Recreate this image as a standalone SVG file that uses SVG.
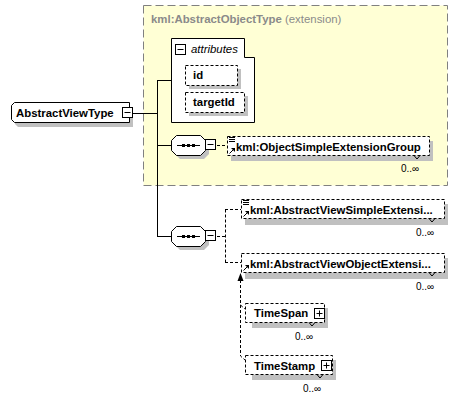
<svg xmlns="http://www.w3.org/2000/svg" width="473" height="400" viewBox="0 0 473 400">
<defs>
<style>
.t{font-family:"Liberation Sans",Arial,sans-serif;font-size:11.4px;font-weight:bold;fill:#000}
.m{font-family:"Liberation Sans",Arial,sans-serif;font-size:10px;fill:#000}
.sh{fill:#c0c0c0}
.box{fill:#fff;stroke:#000;stroke-width:1}
.dbox{fill:#fff;stroke:#000;stroke-width:1;stroke-dasharray:3,2}
.ln{stroke:#000;stroke-width:1;fill:none}
.dl{stroke:#000;stroke-width:1;fill:none;stroke-dasharray:3,2}
.btn{fill:#fff;stroke:#000;stroke-width:1}
</style>
<g id="minus"><rect x="1" y="1" width="10" height="10" fill="#000"/><rect x="0.5" y="0.5" width="10" height="10" class="btn"/><line x1="2.5" y1="5.5" x2="8.5" y2="5.5" stroke="#000"/></g>
<g id="plus"><rect x="1" y="1" width="10" height="10" fill="#000"/><rect x="0.5" y="0.5" width="10" height="10" class="btn"/><line x1="2.5" y1="5.5" x2="8.5" y2="5.5" stroke="#000"/><line x1="5.5" y1="2.5" x2="5.5" y2="8.5" stroke="#000"/></g>
<g id="refarrow"><path d="M0.5,5.5 L5,1" stroke="#000" fill="none"/><path d="M2,0 L6,0 L6,4 Z" fill="#000"/></g>
<g id="lines"><path d="M0,0.5 H6 M0,2.5 H6 M0,4.5 H6" stroke="#000"/></g>
</defs>

<g id="extension">
<rect x="143.5" y="5.5" width="304" height="180" fill="#ffffd5" stroke="#808080" stroke-dasharray="8,4"/>
<text x="151" y="23" font-family="Liberation Sans,Arial,sans-serif" font-size="11.4" fill="#8a8a8a"><tspan font-weight="bold">kml:AbstractObjectType</tspan> (extension)</text>
</g>

<g id="connectors">
<path class="ln" d="M133,113.5 H157.5 M157.5,80 V237 M157,80.5 H171 M157,145.5 H171 M157,236.5 H171"/>
<path class="dl" d="M217,145.5 H227"/>
<path class="dl" d="M217,236.5 H225.5 M225.5,209.5 V262.5 M225,209.5 H241 M225,262.5 H241"/>
<path class="dl" d="M240.5,280 V356 L245,360 M240.5,305 L245,309"/>
<path d="M240.5,273 L237.5,281 H243.5 Z" fill="#000"/>
</g>

<g id="AbstractViewType">
<path class="sh" d="M18,107 H133 V127 H18 L15,124 V110 Z"/>
<path class="box" d="M14.5,102.5 H129.5 V122.5 H14.5 L11.5,119.5 V105.5 Z"/>
<text class="t" x="16" y="117">AbstractViewType</text>
<use href="#minus" x="122" y="107"/>
</g>

<g id="attributes">
<path class="box" d="M171.5,38.5 H244.5 V57.5 H254.5 V122.5 H171.5 Z"/>
<use href="#minus" x="175" y="44"/>
<text x="191" y="53" font-family="Liberation Sans,Arial,sans-serif" font-size="11.4" font-style="italic">attributes</text>
</g>

<g id="id">
<rect class="sh" x="189" y="69" width="52" height="20"/>
<rect class="dbox" x="185.5" y="65.5" width="52" height="20"/>
<text class="t" x="193" y="79">id</text>
</g>

<g id="targetId">
<rect class="sh" x="189" y="96" width="59" height="20"/>
<rect class="dbox" x="185.5" y="92.5" width="59" height="20"/>
<text class="t" x="193" y="106">targetId</text>
</g>

<g id="seq1">
<path class="sh" d="M180,139 H204 L209,144 V154 L204,159 H180 L175,154 V144 Z"/>
<path class="box" d="M176.5,135.5 H200.5 L205.5,140.5 V150.5 L200.5,155.5 H176.5 L171.5,150.5 V140.5 Z"/>
<path d="M177,145.5 H200" stroke="#000"/>
<rect x="182" y="144" width="3" height="3"/><rect x="187" y="144" width="3" height="3"/><rect x="192" y="144" width="3" height="3"/>
<use href="#minus" x="205" y="139"/>
</g>

<g id="ObjectSimpleExtensionGroup">
<rect class="sh" x="231" y="141" width="202" height="20"/>
<rect class="dbox" x="227.5" y="136.5" width="202" height="19"/>
<use href="#lines" x="229" y="137"/>
<use href="#refarrow" x="229" y="148"/>
<text class="t" x="236" y="151">kml:ObjectSimpleExtensionGroup</text>
<path class="ln" d="M414,155.5 L417,159 L420,155.5"/>
<text class="m" x="401" y="172">0..∞</text>
</g>

<g id="seq2">
<path class="sh" d="M180,230 H204 L209,235 V245 L204,250 H180 L175,245 V235 Z"/>
<path class="box" d="M176.5,226.5 H200.5 L205.5,231.5 V241.5 L200.5,246.5 H176.5 L171.5,241.5 V231.5 Z"/>
<path d="M177,236.5 H200" stroke="#000"/>
<rect x="182" y="235" width="3" height="3"/><rect x="187" y="235" width="3" height="3"/><rect x="192" y="235" width="3" height="3"/>
<use href="#minus" x="205" y="230"/>
</g>

<g id="AbstractViewSimpleExtensionGroup">
<rect class="sh" x="245" y="204" width="203" height="21"/>
<rect class="dbox" x="241.5" y="199.5" width="203" height="19"/>
<use href="#lines" x="243" y="200"/>
<use href="#refarrow" x="243" y="211"/>
<text class="t" x="250" y="214">kml:AbstractViewSimpleExtensi...</text>
<path class="ln" d="M429,218.5 L432,222 L435,218.5"/>
<text class="m" x="416" y="236">0..∞</text>
</g>

<g id="AbstractViewObjectExtensionGroup">
<rect class="sh" x="245" y="258" width="203" height="21"/>
<rect class="dbox" x="241.5" y="253.5" width="203" height="19"/>
<use href="#refarrow" x="243" y="265"/>
<text class="t" x="250" y="268">kml:AbstractViewObjectExtensi...</text>
<path class="ln" d="M429,272.5 L432,276 L435,272.5"/>
<text class="m" x="416" y="290">0..∞</text>
</g>

<g id="TimeSpan">
<rect class="sh" x="252" y="308" width="76" height="20"/>
<rect class="dbox" x="245.5" y="303.5" width="79" height="19"/>
<text class="t" x="254" y="317">TimeSpan</text>
<use href="#plus" x="314" y="308"/>
<path class="ln" d="M309,322.5 L312,326 L315,322.5"/>
<text class="m" x="295" y="340">0..∞</text>
</g>

<g id="TimeStamp">
<rect class="sh" x="252" y="360" width="84" height="20"/>
<rect class="dbox" x="245.5" y="355.5" width="87" height="19"/>
<text class="t" x="254" y="370">TimeStamp</text>
<use href="#plus" x="321" y="360"/>
<path class="ln" d="M317,374.5 L320,378 L323,374.5"/>
<text class="m" x="303" y="392">0..∞</text>
</g>
</svg>
